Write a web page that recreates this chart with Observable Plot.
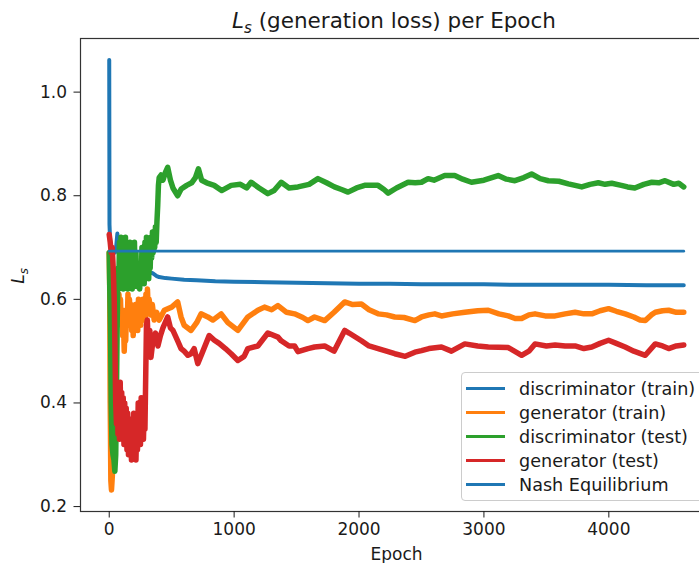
<!DOCTYPE html>
<html>
<head>
<meta charset="utf-8">
<script src="https://cdn.jsdelivr.net/npm/d3@7"></script>
<script src="https://cdn.jsdelivr.net/npm/@observablehq/plot@0.6"></script>
<style>
  html, body { margin: 0; padding: 0; background: #fff; overflow: hidden; }
  #wrap { position: relative; width: 699px; height: 563px; overflow: hidden; background: #fff; font-family: "DejaVu Sans", sans-serif; color: #1a1a1a; }
  #title { position: absolute; left: 0; top: 7px; width: 788px; text-align: center; font-size: 21.5px; white-space: nowrap; line-height: 28px; }
  #chart { position: absolute; left: 0; top: 28px; width: 712px; height: 535px; }
  #chart svg { max-width: none !important; width: 712px; height: 535px; }
  #ylabel { position: absolute; left: 19px; top: 276px; transform: translate(-50%, -50%) rotate(-90deg); font-size: 17px; white-space: nowrap; line-height: 20px; }
  .sub { font-size: 70%; position: relative; top: 0.3em; font-style: italic; }
  #legend { position: absolute; left: 461px; top: 372px; width: 270px; height: 129px; border: 1px solid #cccccc; border-radius: 4px; background: rgba(255,255,255,0.85); box-sizing: border-box; }
  .lrow { position: absolute; left: 0; height: 24px; width: 100%; }
  .lhandle { position: absolute; left: 4px; width: 39px; height: 2.8px; top: 10.6px; }
  .ltext { position: absolute; left: 57px; top: 0; font-size: 17.6px; line-height: 24px; white-space: nowrap; }
</style>
</head>
<body>
<div id="wrap">
  <div id="title"><i>L</i><span class="sub">s</span> (generation loss) per Epoch</div>
  <div id="chart"></div>
  <div id="ylabel"><i>L</i><span class="sub">s</span></div>
  <div id="legend"></div>
</div>
<script>
// ---- data ----
const seriesNames = ["discriminator (train)", "generator (train)", "discriminator (test)", "generator (test)", "Nash Equilibrium"];
const seriesColors = ["#1f77b4", "#ff7f0e", "#2ca02c", "#d62728", "#1f77b4"];
const xTicks = [0, 1000, 2000, 3000, 4000];
const yTicks = [0.2, 0.4, 0.6, 0.8, 1.0];

const discTrainEpoch = [0, 2, 6, 12, 20, 30, 45, 55, 65, 72, 80, 95, 110, 130, 160, 200, 250, 300, 330, 350, 380, 400, 450, 500, 600, 700, 850, 1000, 1250, 1500, 1750, 2000, 2250, 2500, 2750, 3000, 3250, 3500, 3750, 4000, 4300, 4600];
const discTrainLoss  = [1.062, 0.745, 0.72, 0.70, 0.685, 0.695, 0.69, 0.70, 0.727, 0.70, 0.685, 0.69, 0.675, 0.67, 0.662, 0.656, 0.65, 0.647, 0.652, 0.650, 0.645, 0.643, 0.641, 0.640, 0.638, 0.637, 0.635, 0.634, 0.633, 0.632, 0.631, 0.630, 0.630, 0.629, 0.629, 0.629, 0.628, 0.628, 0.628, 0.628, 0.627, 0.627];

const genTrainEpoch = [0, 4, 8, 13, 18, 25, 32, 40, 48, 55, 60, 66, 72, 78, 84, 90, 96, 102, 108, 114, 120, 126, 132, 138, 144, 150, 156, 162, 168, 174, 180, 186, 192, 198, 204, 210, 216, 222, 228, 234, 240, 246, 252, 258, 264, 270, 276, 282, 288, 294, 300, 306, 312, 320, 330, 345, 360, 380, 400, 441, 500, 548, 575, 600, 655, 700, 735, 789, 830, 896, 950, 1030, 1110, 1190, 1243, 1300, 1351, 1420, 1484, 1550, 1591, 1644, 1725, 1800, 1885, 1950, 2019, 2080, 2153, 2220, 2286, 2360, 2447, 2500, 2560, 2607, 2660, 2750, 2847, 2950, 3035, 3120, 3195, 3250, 3302, 3360, 3409, 3490, 3570, 3650, 3730, 3800, 3864, 3930, 3998, 4060, 4131, 4200, 4250, 4292, 4340, 4372, 4430, 4479, 4540, 4600];
const genTrainLoss  = [0.69, 0.62, 0.40, 0.25, 0.232, 0.26, 0.32, 0.42, 0.52, 0.56, 0.57, 0.60, 0.56, 0.61, 0.57, 0.60, 0.55, 0.58, 0.53, 0.56, 0.50, 0.54, 0.52, 0.58, 0.55, 0.61, 0.56, 0.60, 0.55, 0.59, 0.54, 0.58, 0.53, 0.57, 0.54, 0.59, 0.55, 0.58, 0.54, 0.60, 0.56, 0.59, 0.55, 0.58, 0.56, 0.60, 0.56, 0.59, 0.56, 0.61, 0.58, 0.62, 0.58, 0.60, 0.57, 0.59, 0.56, 0.575, 0.56, 0.579, 0.585, 0.595, 0.566, 0.55, 0.54, 0.555, 0.572, 0.566, 0.56, 0.572, 0.555, 0.54, 0.566, 0.579, 0.585, 0.58, 0.588, 0.575, 0.572, 0.565, 0.559, 0.566, 0.559, 0.575, 0.595, 0.59, 0.591, 0.58, 0.572, 0.57, 0.566, 0.565, 0.559, 0.566, 0.57, 0.572, 0.568, 0.572, 0.575, 0.578, 0.579, 0.572, 0.568, 0.563, 0.563, 0.57, 0.572, 0.568, 0.568, 0.572, 0.575, 0.572, 0.572, 0.578, 0.582, 0.577, 0.572, 0.566, 0.56, 0.559, 0.57, 0.575, 0.578, 0.579, 0.575, 0.575];

const discTestEpoch = [0, 3, 10, 16, 22, 30, 38, 45, 52, 58, 64, 70, 76, 82, 88, 94, 100, 106, 112, 118, 124, 130, 136, 142, 148, 154, 160, 166, 172, 178, 184, 190, 196, 202, 208, 214, 220, 226, 232, 238, 244, 250, 256, 262, 268, 274, 280, 286, 292, 298, 304, 310, 316, 322, 328, 334, 340, 346, 352, 358, 364, 370, 376, 382, 388, 394, 400, 415, 430, 450, 468, 490, 510, 548, 576, 620, 660, 690, 714, 740, 780, 840, 900, 976, 1050, 1100, 1136, 1200, 1270, 1320, 1377, 1440, 1511, 1600, 1671, 1740, 1803, 1860, 1912, 1980, 2045, 2100, 2152, 2200, 2233, 2300, 2393, 2450, 2500, 2553, 2600, 2686, 2766, 2830, 2900, 3000, 3114, 3180, 3248, 3320, 3382, 3450, 3516, 3600, 3676, 3730, 3783, 3850, 3916, 3970, 4023, 4100, 4150, 4208, 4280, 4344, 4400, 4450, 4520, 4560, 4600];
const discTestLoss  = [0.69, 0.64, 0.55, 0.40, 0.32, 0.30, 0.29, 0.268, 0.30, 0.42, 0.56, 0.66, 0.62, 0.71, 0.63, 0.72, 0.64, 0.70, 0.62, 0.71, 0.64, 0.72, 0.63, 0.70, 0.62, 0.69, 0.63, 0.71, 0.64, 0.70, 0.62, 0.68, 0.63, 0.71, 0.64, 0.69, 0.625, 0.67, 0.63, 0.66, 0.62, 0.67, 0.63, 0.70, 0.64, 0.69, 0.63, 0.71, 0.65, 0.72, 0.66, 0.70, 0.64, 0.69, 0.66, 0.72, 0.68, 0.73, 0.69, 0.72, 0.70, 0.74, 0.71, 0.75, 0.78, 0.82, 0.835, 0.84, 0.83, 0.845, 0.855, 0.83, 0.815, 0.80, 0.813, 0.82, 0.825, 0.835, 0.852, 0.83, 0.825, 0.82, 0.81, 0.82, 0.822, 0.815, 0.826, 0.815, 0.804, 0.81, 0.826, 0.815, 0.817, 0.822, 0.833, 0.825, 0.817, 0.812, 0.807, 0.815, 0.82, 0.82, 0.82, 0.812, 0.805, 0.815, 0.826, 0.825, 0.826, 0.833, 0.83, 0.839, 0.839, 0.832, 0.826, 0.83, 0.839, 0.832, 0.829, 0.835, 0.842, 0.833, 0.829, 0.828, 0.823, 0.82, 0.817, 0.822, 0.825, 0.822, 0.824, 0.82, 0.817, 0.815, 0.822, 0.826, 0.825, 0.829, 0.822, 0.824, 0.817];

const genTestEpoch = [0, 8, 16, 24, 32, 40, 46, 52, 58, 64, 70, 76, 82, 88, 94, 100, 106, 112, 118, 124, 130, 136, 142, 148, 154, 160, 166, 172, 178, 184, 190, 196, 202, 208, 214, 220, 226, 232, 238, 244, 250, 256, 262, 268, 274, 280, 286, 292, 298, 305, 315, 325, 334, 350, 370, 390, 410, 430, 468, 490, 510, 548, 575, 600, 630, 655, 680, 709, 750, 800, 842, 880, 930, 976, 1030, 1080, 1110, 1190, 1270, 1351, 1377, 1440, 1484, 1511, 1591, 1644, 1725, 1800, 1885, 1920, 2019, 2080, 2153, 2220, 2286, 2370, 2447, 2500, 2560, 2660, 2740, 2847, 2950, 3035, 3195, 3302, 3360, 3409, 3500, 3570, 3650, 3730, 3800, 3864, 3930, 3998, 4060, 4131, 4200, 4292, 4372, 4430, 4479, 4540, 4600];
const genTestLoss  = [0.725, 0.71, 0.69, 0.70, 0.66, 0.60, 0.50, 0.40, 0.36, 0.44, 0.34, 0.43, 0.33, 0.44, 0.35, 0.42, 0.33, 0.41, 0.32, 0.40, 0.34, 0.39, 0.31, 0.38, 0.30, 0.37, 0.31, 0.36, 0.29, 0.35, 0.30, 0.38, 0.32, 0.37, 0.29, 0.36, 0.31, 0.40, 0.33, 0.39, 0.32, 0.41, 0.34, 0.40, 0.33, 0.39, 0.35, 0.45, 0.55, 0.56, 0.50, 0.54, 0.488, 0.52, 0.535, 0.51, 0.53, 0.545, 0.566, 0.545, 0.54, 0.52, 0.505, 0.50, 0.492, 0.495, 0.505, 0.476, 0.50, 0.53, 0.521, 0.515, 0.505, 0.495, 0.482, 0.49, 0.505, 0.51, 0.535, 0.527, 0.52, 0.51, 0.51, 0.499, 0.505, 0.508, 0.51, 0.50, 0.54, 0.535, 0.52, 0.51, 0.505, 0.50, 0.495, 0.49, 0.498, 0.501, 0.505, 0.508, 0.50, 0.514, 0.51, 0.508, 0.507, 0.492, 0.50, 0.514, 0.51, 0.512, 0.51, 0.51, 0.505, 0.508, 0.515, 0.521, 0.515, 0.508, 0.50, 0.492, 0.514, 0.51, 0.505, 0.51, 0.512];

const nashEpoch = [0, 4600];
const nashLoss  = [0.693, 0.693];

// ---- build rows ----
const rows = (ep, loss) => ep.map((e, i) => ({epoch: e, loss: loss[i]}));
const allSeries = [
  rows(discTrainEpoch, discTrainLoss),
  rows(genTrainEpoch, genTrainLoss),
  rows(discTestEpoch, discTestLoss),
  rows(genTestEpoch, genTestLoss),
  rows(nashEpoch, nashLoss)
];
const widths = [4, 5.5, 5.5, 5.5, 2.6];

const chart = Plot.plot({
  width: 712,
  height: 535,
  marginTop: 10,
  marginBottom: 52,
  marginLeft: 80,
  marginRight: 0,
  x: {domain: [-230, 4830]},
  y: {domain: [0.1905, 1.1035]},
  style: {fontFamily: "DejaVu Sans", fontSize: "17px", color: "#1a1a1a", background: "transparent", overflow: "visible", maxWidth: "none"},
  marks: [
    ...allSeries.map((d, i) => Plot.line(d, {x: "epoch", y: "loss", stroke: seriesColors[i], strokeWidth: widths[i], strokeLinejoin: "round"})),
    Plot.frame({stroke: "#333", strokeWidth: 1.2}),
    Plot.axisX({ticks: xTicks, tickSize: 6.5, tickPadding: 5, tickFormat: d3.format("d"), label: null, fontSize: 17}),
    Plot.axisY({ticks: yTicks, tickSize: 6.5, tickPadding: 7, tickFormat: d3.format(".1f"), label: null, fontSize: 17}),
    Plot.text(["Epoch"], {text: d => d, frameAnchor: "bottom", dy: 48, fontSize: 17})
  ]
});
document.getElementById("chart").appendChild(chart);

// ---- legend ----
const legend = document.getElementById("legend");
seriesNames.forEach((name, i) => {
  const row = document.createElement("div");
  row.className = "lrow";
  row.style.top = (3.7 + 24 * i) + "px";
  const h = document.createElement("div");
  h.className = "lhandle";
  h.style.background = seriesColors[i];
  const t = document.createElement("div");
  t.className = "ltext";
  t.textContent = name;
  row.appendChild(h);
  row.appendChild(t);
  legend.appendChild(row);
});
</script>
</body>
</html>
